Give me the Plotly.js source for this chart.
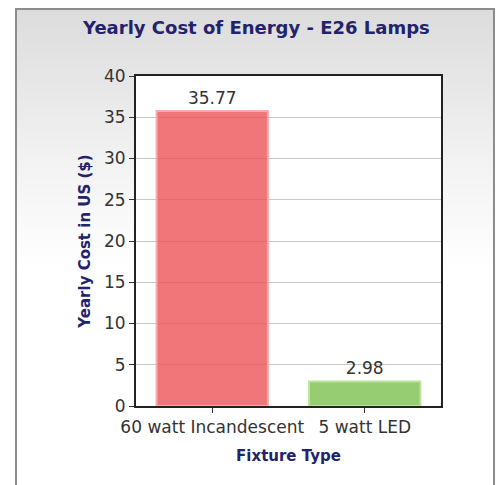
<!DOCTYPE html>
<html>
<head>
<meta charset="utf-8">
<script src="https://cdn.plot.ly/plotly-3.0.1.min.js"></script>
<style>
  html, body { margin:0; padding:0; background:#fff; }
  #frame { position:absolute; left:15px; top:8px; width:476px; height:490px;
           border:2px solid #8c8c8c; border-bottom:none;
           background:linear-gradient(to bottom, #dcdcdc 0px, #f2f2f2 150px, #ffffff 260px, #ffffff 100%); }
  #chart { position:absolute; left:0; top:0; width:496px; height:485px; }
</style>
</head>
<body>
<div id="frame"></div>
<div id="chart"></div>
<script>
const categories = ["60 watt Incandescent", "5 watt LED"];
const costs = [35.77, 2.98];
const costLabels = ["35.77", "2.98"];
const yTicks = [0, 5, 10, 15, 20, 25, 30, 35, 40];

const navy = "#23236b";
const trace = {
  type: "bar",
  x: categories,
  y: costs,
  text: costLabels,
  textposition: "outside",
  textfont: { family: "DejaVu Sans, sans-serif", size: 17, color: "#333" },
  cliponaxis: false,
  marker: {
    color: ["rgba(238,84,88,0.8)", "rgba(135,198,95,0.88)"],
    line: { color: ["rgba(250,170,170,1)", "rgba(185,228,155,1)"], width: 2 }
  },
  hoverinfo: "none"
};

const layout = {
  width: 496, height: 485,
  margin: { l: 136, r: 55, t: 76, b: 79 },
  paper_bgcolor: "rgba(0,0,0,0)",
  plot_bgcolor: "#ffffff",
  bargap: 0.27,
  showlegend: false,
  title: {
    text: "<b>Yearly Cost of Energy - E26 Lamps</b>",
    font: { family: "DejaVu Sans, sans-serif", size: 18, color: navy },
    x: 0.517, xanchor: "center", y: 0.942, yanchor: "middle"
  },
  xaxis: {
    title: { text: "<b>Fixture Type</b>", font: { family: "DejaVu Sans, sans-serif", size: 15, color: navy }, standoff: 14 },
    tickfont: { family: "DejaVu Sans, sans-serif", size: 17, color: "#333" },
    ticks: "outside", ticklen: 5, tickcolor: "#333",
    showline: true, linecolor: "#222", linewidth: 2, mirror: true,
    showgrid: false
  },
  yaxis: {
    title: { text: "<b>Yearly Cost in US ($)</b>", font: { family: "DejaVu Sans, sans-serif", size: 15, color: navy }, standoff: 10 },
    range: [0, 40],
    tickvals: yTicks,
    tickfont: { family: "DejaVu Sans, sans-serif", size: 17, color: "#333" },
    ticks: "outside", ticklen: 5, tickcolor: "#333",
    showline: true, linecolor: "#222", linewidth: 2, mirror: true,
    showgrid: true, gridcolor: "#c8c8c8", gridwidth: 1,
    zeroline: false
  }
};

Plotly.newPlot("chart", [trace], layout, { displayModeBar: false, staticPlot: true });
</script>
</body>
</html>
